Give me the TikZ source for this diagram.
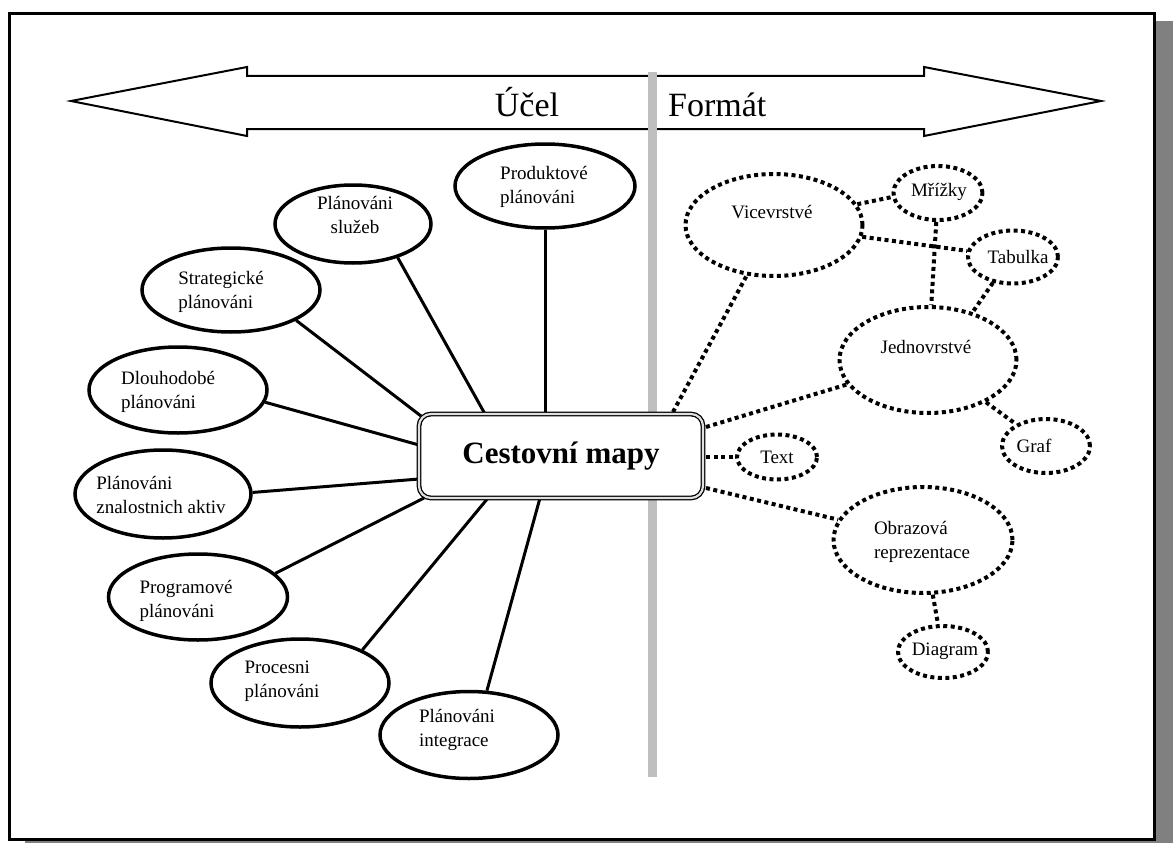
\documentclass[tikz,border=0pt]{standalone}
\usepackage{fontspec}
\setmainfont{Liberation Serif}
\usetikzlibrary{shapes.geometric}
\begin{document}
\begin{tikzpicture}[x=1pt,y=-1pt,
  lab/.style={font=\fontsize{19}{24}\selectfont, align=left, inner sep=0pt},
  solidell/.style={ellipse, draw, line width=3.5pt, fill=white, inner sep=0pt},
  dotell/.style={ellipse, draw, line width=4pt, dash pattern=on 4pt off 3.5pt, fill=white, inner sep=0pt},
  solidlink/.style={line width=3pt},
  dotlink/.style={line width=4pt, dash pattern=on 4pt off 3.5pt},
  title/.style={font=\fontsize{34}{40}\selectfont, inner sep=0pt},
]
\useasboundingbox (0,0) rectangle (1173,843);

% page with drop shadow
\fill[black!50] (25,21) rectangle (1173,843);
\draw[line width=3pt, fill=white] (9.5,13.5) rectangle (1154.5,839.5);

% double-headed arrow across the top
\draw[line width=2pt, fill=white, line join=miter]
  (71,101) -- (247,67) -- (247,76) -- (924,76) -- (924,67) -- (1101,101)
  -- (924,136) -- (924,129) -- (247,129) -- (247,136) -- cycle;
\node[title, anchor=base] (ucel) at (527,117) {Účel};
\node[title, anchor=base west] (format) at (668,117) {Formát};

% dividing bar
\fill[black!25] (648,72) rectangle (657,777);

% left: purposes
\node[solidell, minimum width=180pt, minimum height=84pt] (e1) at (545,186) {};
\node[solidell, minimum width=156pt, minimum height=78pt] (e2) at (353,224) {};
\node[solidell, minimum width=178pt, minimum height=84pt] (e3) at (231,290) {};
\node[solidell, minimum width=178pt, minimum height=86pt] (e4) at (178,390) {};
\node[solidell, minimum width=176pt, minimum height=88pt] (e5) at (163,494) {};
\node[solidell, minimum width=179pt, minimum height=86pt] (e6) at (198,597) {};
\node[solidell, minimum width=178pt, minimum height=88pt] (e7) at (300,683) {};
\node[solidell, minimum width=178pt, minimum height=87pt] (e8) at (469,735) {};

\node[lab] (t1) at (544,187) {Produktové\\plánováni};
\node[lab, align=center] (t2) at (355,215) {Plánováni\\služeb};
\node[lab] (t3) at (221,292) {Strategické\\plánováni};
\node[lab] (t4) at (168,392) {Dlouhodobé\\plánováni};
\node[lab] (t5) at (161,495) {Plánováni\\znalostnich aktiv};
\node[lab] (t6) at (186,601) {Programové\\plánováni};
\node[lab] (t7) at (282,681) {Procesni\\plánováni};
\node[lab] (t8) at (457,730) {Plánováni\\integrace};

% attachment points on the central box
\coordinate (b1) at (545,414);
\coordinate (b2) at (485,414);
\coordinate (b3) at (421,416);
\coordinate (b4) at (419,445);
\coordinate (b5) at (419,479);
\coordinate (b6) at (424,498);
\coordinate (b7) at (488,498);
\coordinate (b8) at (540,498);

\draw[solidlink] (e1) -- (b1);
\draw[solidlink] (e2.-37) -- (b2);
\draw[solidlink] (e3.-25) -- (b3);
\draw[solidlink] (e4.-8) -- (b4);
\draw[solidlink] (e5.1) -- (b5);
\draw[solidlink] (e6.17) -- (b6);
\draw[solidlink] (e7.28) -- (b7);
\draw[solidlink] (e8.68) -- (b8);

% right: formats
\node[dotell, minimum width=177pt, minimum height=102pt] (vic) at (774,225) {};
\node[dotell, minimum width=89pt, minimum height=54pt] (mri) at (938,193) {};
\node[dotell, minimum width=90pt, minimum height=53pt] (tab) at (1013,257) {};
\node[dotell, minimum width=177pt, minimum height=106pt] (jed) at (928,360) {};
\node[dotell, minimum width=88pt, minimum height=54pt] (graf) at (1046,446) {};
\node[dotell, minimum width=80pt, minimum height=45pt] (txt) at (777,457) {};
\node[dotell, minimum width=179pt, minimum height=106pt] (obr) at (923,540) {};
\node[dotell, minimum width=90pt, minimum height=52pt] (dia) at (943,652) {};

\node[lab] (tvic) at (772,212) {Vicevrstvé};
\node[lab] (tmri) at (939,192) {Mřížky};
\node[lab] (ttab) at (1018,257) {Tabulka};
\node[lab] (tjed) at (926,347) {Jednovrstvé};
\node[lab] (tgraf) at (1034,446) {Graf};
\node[lab] (ttxt) at (777,457) {Text};
\node[lab] (tobr) at (922,542) {Obrazová\\reprezentace};
\node[lab] (tdia) at (945,651) {Diagram};

\coordinate (bv) at (673,412);
\coordinate (bj) at (706,427);
\coordinate (bt) at (706,457);
\coordinate (bo) at (706,488);

\draw[dotlink] (bv) -- (vic);
\draw[dotlink] (bj) -- (jed);
\draw[dotlink] (bt) -- (txt);
\draw[dotlink] (bo) -- (obr);
\draw[dotlink] (vic.14) -- (mri.185);
\draw[dotlink] (vic) -- (tab);
\draw[dotlink] (mri) -- (jed);
\draw[dotlink] (tab.232) -- (jed.47);
\draw[dotlink] (jed) -- (graf);
\draw[dotlink] (obr) -- (dia);

% central box
\node[draw, rounded corners=12pt, line width=1.3pt, double=black!12, double distance=2.2pt,
  minimum width=284pt, minimum height=84pt, fill=white,
  font=\bfseries\fontsize{31}{36}\selectfont] (cm) at (561,456) {Cestovní mapy};
\end{tikzpicture}
\end{document}
